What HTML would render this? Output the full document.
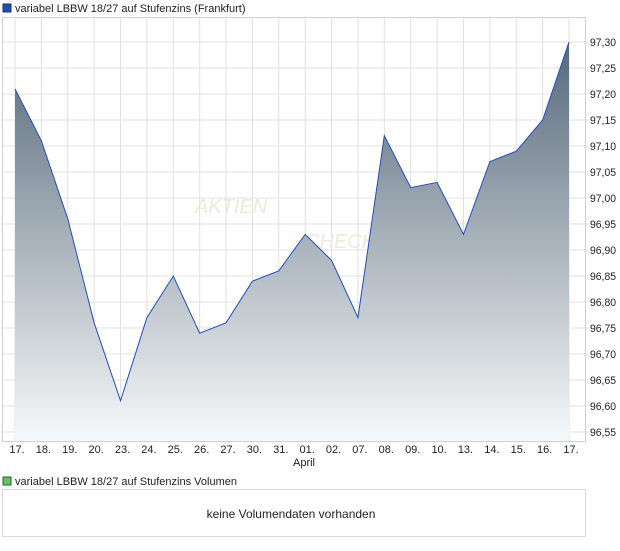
<!DOCTYPE html>
<html><head><meta charset="utf-8"><style>
body{margin:0;background:#fff;font-family:"Liberation Sans",sans-serif;}
svg text{font-family:"Liberation Sans",sans-serif;}
</style></head><body>
<svg width="620" height="546">
<defs><linearGradient id="g" x1="0" y1="43" x2="0" y2="441" gradientUnits="userSpaceOnUse">
<stop offset="0" stop-color="#56697a"/><stop offset="0.5" stop-color="#a9b3bb"/><stop offset="1" stop-color="#f7f8f9"/></linearGradient></defs>
<rect x="3" y="4" width="8" height="8" fill="#1f4fb4" stroke="#203060"/>
<text x="15" y="12" font-size="11" fill="#222">variabel LBBW 18/27 auf Stufenzins (Frankfurt)</text>
<g id="grid"></g>
<text x="195" y="213" font-size="20" fill="#eee8e3" font-style="italic">AKTIEN</text>
<text x="305" y="248" font-size="20" fill="#eee8e3" font-style="italic">CHECK</text>
<g id="plot"></g>
<rect x="2.5" y="17.5" width="583" height="424" fill="none" stroke="#d0d0d0"/>
<g id="xl"></g>
<text x="304" y="466" font-size="11" text-anchor="middle" fill="#222">April</text>
<rect x="3" y="477" width="8" height="8" fill="#5ec45e" stroke="#2a602a"/>
<text x="15" y="485" font-size="11" fill="#222">variabel LBBW 18/27 auf Stufenzins Volumen</text>
<rect x="2.5" y="489.5" width="583" height="47" fill="#fff" stroke="#d8d8d8"/>
<text x="291" y="518" font-size="12" text-anchor="middle" fill="#222">keine Volumendaten vorhanden</text>
</svg>
<script>
const categories=["17.","18.","19.","20.","23.","24.","25.","26.","27.","30.","31.","01.","02.","07.","08.","09.","10.","13.","14.","15.","16.","17."];
const values=[97.21,97.11,96.96,96.76,96.61,96.77,96.85,96.74,96.76,96.84,96.86,96.93,96.88,96.77,97.12,97.02,97.03,96.93,97.07,97.09,97.15,97.30];
const yTicks=[96.55,96.60,96.65,96.70,96.75,96.80,96.85,96.90,96.95,97.00,97.05,97.10,97.15,97.20,97.25,97.30];
const NS="http://www.w3.org/2000/svg";
const xs=i=>15+i*(569-15)/(categories.length-1);
const ys=v=>432-(v-96.55)/0.05*26;
function mk(t,a,p){const e=document.createElementNS(NS,t);for(const k in a)e.setAttribute(k,a[k]);p.appendChild(e);return e;}
const grid=document.getElementById('grid'),plot=document.getElementById('plot'),xl=document.getElementById('xl');
categories.forEach((c,i)=>{
 const l=mk('line',{x1:xs(i),x2:xs(i),y1:17,y2:441,stroke:'#e0e0e0'},grid);
 
 
 const t=mk('text',{x:xs(i)+2,y:453,'font-size':11,'text-anchor':'middle',fill:'#222'},xl);
 t.textContent=c;
 
 
});
yTicks.forEach(v=>{
 const l=mk('line',{x1:2,x2:592,y1:ys(v),y2:ys(v),stroke:'#e0e0e0'},grid);
 
 
 const t=mk('text',{x:590,y:ys(v)+4,'font-size':11,fill:'#222',textLength:26,lengthAdjust:'spacingAndGlyphs'},grid);
 t.textContent=v.toFixed(2).replace('.',',');
 
 
});
let d='M'+xs(0)+' 441';values.forEach((v,i)=>d+=' L'+xs(i)+' '+ys(v));d+=' L'+xs(values.length-1)+' 441 Z';
const a=mk('path',{d:d,fill:'url(#g)'},plot);


const ln=mk('polyline',{points:values.map((v,i)=>xs(i)+','+ys(v)).join(' '),fill:'none',stroke:'#1f4fc0','stroke-width':1},plot);


</script>
</body></html>
